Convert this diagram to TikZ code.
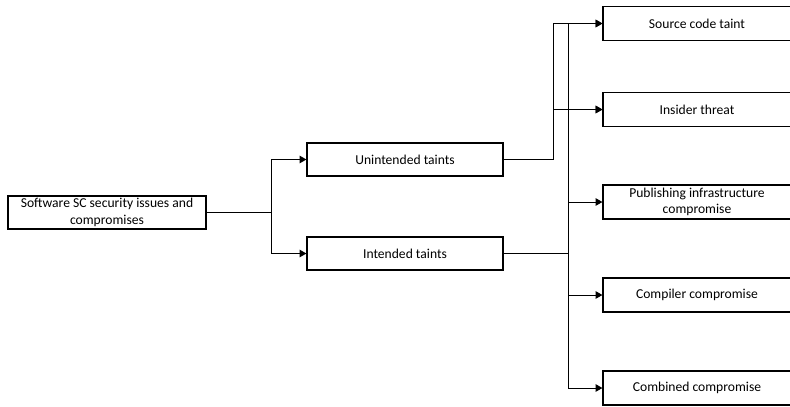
\documentclass[tikz,border=0pt]{standalone}
\usepackage{fontspec}
\setmainfont{Carlito}
\usetikzlibrary{arrows.meta}
\begin{document}
\begin{tikzpicture}[x=0.75pt,y=-0.75pt,
  box/.style={draw=black,line width=0.9pt,rectangle,inner sep=0pt,align=center,
    font=\fontsize{10.2}{12.5}\selectfont},
  conn/.style={line width=0.75pt},
  arr/.style={conn,-{Triangle[length=5pt,width=5.5pt]}}]
\useasboundingbox (0,0) rectangle (790,407);
\node[box,minimum width=148.5pt,minimum height=24.75pt] (root) at (107,212.5) {Software SC security issues and\\compromises};
\node[box,minimum width=147pt,minimum height=24.75pt] (un) at (405,159.5) {Unintended taints};
\node[box,minimum width=147pt,minimum height=24.75pt] (in) at (405,253.5) {Intended taints};
\node[box,minimum width=141pt,minimum height=25.5pt] (src) at (697,23.5) {Source code taint};
\node[box,minimum width=141pt,minimum height=25.5pt] (ins) at (697,109.5) {Insider threat};
\node[box,minimum width=141pt,minimum height=25.5pt] (pub) at (697,202) {Publishing infrastructure\\compromise};
\node[box,minimum width=141pt,minimum height=25.5pt] (cmp) at (697,295) {Compiler compromise};
\node[box,minimum width=141pt,minimum height=25.5pt] (cmb) at (697,388) {Combined compromise};
\coordinate (j0) at (271,212.5);
\coordinate (ju) at (553,159.5);
\coordinate (ji) at (568,253.5);
\draw[conn] (root.east) -- (j0);
\draw[arr] (j0) |- (un.west);
\draw[arr] (j0) |- (in.west);
\draw[conn] (un.east) -- (ju);
\draw[arr] (ju) |- (src.west);
\draw[arr] (ju) |- (ins.west);
\draw[conn] (in.east) -- (ji);
\draw[arr] (ji) |- (src.west);
\draw[arr] (ji) |- (ins.west);
\draw[arr] (ji) |- (pub.west);
\draw[arr] (ji) |- (cmp.west);
\draw[arr] (ji) |- (cmb.west);
\end{tikzpicture}
\end{document}
